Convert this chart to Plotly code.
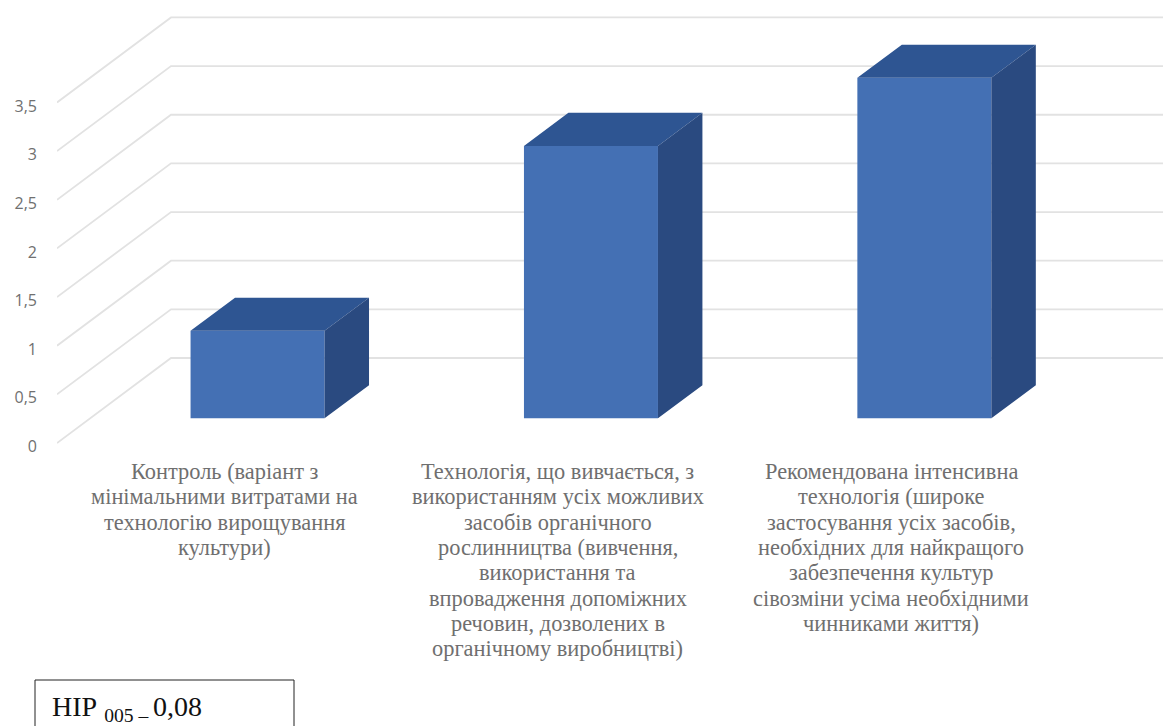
import plotly.graph_objects as go

# ---- data ----
label_lines = [
    ["Контроль (варіант з", "мінімальними витратами на", "технологію вирощування", "культури)"],
    ["Технологія, що вивчається, з", "використанням усіх можливих", "засобів органічного",
     "рослинництва (вивчення,", "використання та", "впровадження допоміжних",
     "речовин, дозволених в", "органічному виробництві)"],
    ["Рекомендована інтенсивна", "технологія (широке", "застосування усіх засобів,",
     "необхідних для найкращого", "забезпечення культур", "сівозміни усіма необхідними",
     "чинниками життя)"],
]
categories = [0, 1, 2]
values = [0.9, 2.8, 3.5]
tick_values = [0, 0.5, 1, 1.5, 2, 2.5, 3, 3.5]
tick_text = ["0", "0,5", "1", "1,5", "2", "2,5", "3", "3,5"]
note = "НІР <sub>005 – </sub>0,08"

# ---- layout geometry (page pixels) ----
W, H = 1163, 726
LEFT, PLOT_BOTTOM = 57, 452
CAT0_PX, CAT_PX = 224.5, 333.4
ZERO_PX, UNIT_PX = 446.5, 97.3
x_range = [(LEFT - CAT0_PX) / CAT_PX, (W - CAT0_PX) / CAT_PX]
y_range = [(ZERO_PX - PLOT_BOTTOM) / UNIT_PX, ZERO_PX / UNIT_PX]

# oblique projection: one unit of depth shifts by (DX, DY) in axis units
DX = 114 / CAT_PX
DY = 85 / UNIT_PX
Y0 = 3.5 / UNIT_PX           # the drawn floor sits a little above the tick-label centre
D_FRONT, D_BACK = 0.29, 0.68
HALF = 67 / CAT_PX


def proj(cat, val, depth):
    return cat + depth * DX, val + Y0 + depth * DY


fig = go.Figure()

# walls: one polyline per tick, kept below the bars
shapes = []
for v in tick_values:
    a = proj(x_range[0], v, 0)
    b = proj(x_range[0], v, 1)
    path = f"M {a[0]} {a[1]} L {b[0]} {b[1]} L {x_range[1]} {b[1]}"
    shapes.append(dict(type="path", xref="x", yref="y", path=path, layer="below",
                       line=dict(color="#e2e2e2", width=1.8)))

# front faces
fx = [proj(c, 0, D_FRONT)[0] for c in categories]
fig.add_trace(go.Bar(x=fx, y=values, base=[proj(0, 0, D_FRONT)[1]] * len(values), width=2 * HALF,
                     marker=dict(color="#4470B4", line=dict(width=0)), showlegend=False))


def face(points_fn, color):
    xs, ys = [], []
    for c, v in zip(categories, values):
        for p in points_fn(c, v):
            xs.append(p[0]); ys.append(p[1])
        xs.append(None); ys.append(None)
    fig.add_trace(go.Scatter(x=xs, y=ys, mode="lines", fill="toself", fillcolor=color,
                             line=dict(width=0, color=color), hoverinfo="skip", showlegend=False))


# top faces
face(lambda c, v: [proj(c - HALF, v, D_FRONT), proj(c + HALF, v, D_FRONT),
                   proj(c + HALF, v, D_BACK), proj(c - HALF, v, D_BACK),
                   proj(c - HALF, v, D_FRONT)], "#2E5592")
# side faces
face(lambda c, v: [proj(c + HALF, 0, D_FRONT), proj(c + HALF, v, D_FRONT),
                   proj(c + HALF, v, D_BACK), proj(c + HALF, 0, D_BACK),
                   proj(c + HALF, 0, D_FRONT)], "#2A4A80")

# category labels, one annotation per line for the wide leading
FIRST_LINE_PX, LINE_PX = 471.5, 25.3
annotations = []
for c, lines in zip(categories, label_lines):
    for i, line in enumerate(lines):
        annotations.append(dict(
            x=c, xref="x", xanchor="center",
            y=(PLOT_BOTTOM - (FIRST_LINE_PX + i * LINE_PX)) / PLOT_BOTTOM, yref="paper", yanchor="middle",
            text=line, showarrow=False,
            font=dict(family="Liberation Serif", size=22.4, color="#6f6f6f")))

annotations.append(dict(
    x=(50 - LEFT) / (W - LEFT), xref="paper", xanchor="left",
    y=(PLOT_BOTTOM - 708) / PLOT_BOTTOM, yref="paper", yanchor="middle",
    text=note, showarrow=False,
    font=dict(family="Liberation Serif", size=28, color="#111111")))

shapes.append(dict(type="rect", xref="paper", yref="paper",
                   x0=(35 - LEFT) / (W - LEFT), x1=(294 - LEFT) / (W - LEFT),
                   y0=(PLOT_BOTTOM - 740) / PLOT_BOTTOM, y1=(PLOT_BOTTOM - 680) / PLOT_BOTTOM,
                   line=dict(color="#222222", width=1), fillcolor="white", layer="below"))

fig.update_layout(
    width=W, height=H, autosize=False,
    margin=dict(l=LEFT, r=0, t=0, b=H - PLOT_BOTTOM, pad=0),
    paper_bgcolor="white", plot_bgcolor="white",
    barmode="overlay", showlegend=False,
    annotations=annotations, shapes=shapes,
    xaxis=dict(range=x_range, showgrid=False, zeroline=False, showline=False,
               showticklabels=False, ticks=""),
    yaxis=dict(range=y_range, tickmode="array", tickvals=tick_values, ticktext=tick_text,
               showgrid=False, zeroline=False, showline=False, ticks="",
               ticklabelstandoff=19,
               tickfont=dict(family="Open Sans", size=16, color="#707070")),
)

fig.write_html("out.html", config={"displayModeBar": False},
               post_script="document.body.style.margin='0';")
